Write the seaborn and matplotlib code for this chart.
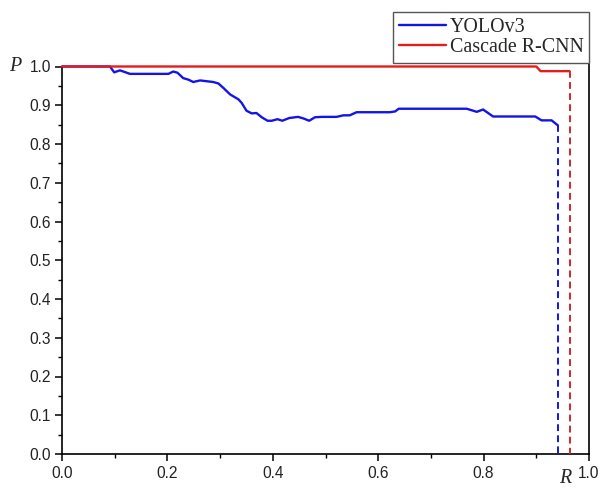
import numpy as np
import pandas as pd
import matplotlib
matplotlib.use("Agg")
import matplotlib.pyplot as plt
from matplotlib.ticker import MultipleLocator
import seaborn as sns

# ---- data ----
yolo_R = [0.000, 0.091, 0.099, 0.110, 0.129, 0.202, 0.211, 0.219, 0.230, 0.240,
          0.249, 0.262, 0.287, 0.297, 0.306, 0.319, 0.335, 0.341, 0.350, 0.360,
          0.369, 0.379, 0.390, 0.398, 0.409, 0.418, 0.431, 0.448, 0.458, 0.469,
          0.480, 0.493, 0.521, 0.534, 0.546, 0.559, 0.622, 0.632, 0.639, 0.768,
          0.787, 0.799, 0.818, 0.898, 0.910, 0.929, 0.941]
yolo_P = [1.000, 1.000, 0.985, 0.990, 0.981, 0.981, 0.987, 0.984, 0.970, 0.966,
          0.960, 0.964, 0.960, 0.956, 0.945, 0.928, 0.915, 0.906, 0.886, 0.879,
          0.880, 0.869, 0.860, 0.860, 0.864, 0.860, 0.867, 0.870, 0.866, 0.860,
          0.869, 0.870, 0.870, 0.874, 0.874, 0.882, 0.882, 0.884, 0.891, 0.891,
          0.883, 0.889, 0.871, 0.871, 0.861, 0.861, 0.848]
cascade_R = [0.000, 0.900, 0.908, 0.963]
cascade_P = [1.000, 1.000, 0.988, 0.988]

# vertical drop-offs (dashed)
yolo_drop_R = [0.941, 0.941]
yolo_drop_P = [0.848, 0.000]
cascade_drop_R = [0.963, 0.963]
cascade_drop_P = [0.988, 0.000]

series_names = ["YOLOv3", "Cascade R-CNN"]
x_ticks = [0.0, 0.2, 0.4, 0.6, 0.8, 1.0]
y_ticks = [0.0, 0.1, 0.2, 0.3, 0.4, 0.5, 0.6, 0.7, 0.8, 0.9, 1.0]

BLUE = "#1414e6"
RED = "#e41c1c"
RED_DASH = "#d02828"

sns.set_style("ticks")
plt.rcParams["font.family"] = ["Liberation Sans", "DejaVu Sans"]

fig = plt.figure(figsize=(6.01, 4.88), dpi=100)
ax = fig.add_axes([62 / 601, 1 - 454 / 488, 527 / 601, 387.5 / 488])

df_y = pd.DataFrame({"R": yolo_R, "P": yolo_P})
df_c = pd.DataFrame({"R": cascade_R, "P": cascade_P})
df_yd = pd.DataFrame({"R": yolo_drop_R, "P": yolo_drop_P})
df_cd = pd.DataFrame({"R": cascade_drop_R, "P": cascade_drop_P})

sns.lineplot(data=df_y, x="R", y="P", ax=ax, color=BLUE, lw=1.7,
             estimator=None, sort=False, clip_on=False, zorder=3)
sns.lineplot(data=df_yd, x="R", y="P", ax=ax, color=BLUE, lw=1.4,
             estimator=None, sort=False, clip_on=False, zorder=3,
             dashes=False, linestyle=(0, (3.5, 2.2)))
sns.lineplot(data=df_c, x="R", y="P", ax=ax, color=RED, lw=1.7,
             estimator=None, sort=False, clip_on=False, zorder=4)
sns.lineplot(data=df_cd, x="R", y="P", ax=ax, color=RED_DASH, lw=1.4,
             estimator=None, sort=False, clip_on=False, zorder=4,
             dashes=False, linestyle=(0, (3.5, 2.2)))

lines = ax.get_lines()
handles = [lines[0], lines[2]]

ax.set_xlim(0, 1.0)
ax.set_ylim(0, 1.0)
ax.set_xticks(x_ticks)
ax.set_yticks(y_ticks)
ax.set_xticklabels([f"{v:.1f}" for v in x_ticks])
ax.set_yticklabels([f"{v:.1f}" for v in y_ticks])
ax.xaxis.set_minor_locator(MultipleLocator(0.1))
ax.yaxis.set_minor_locator(MultipleLocator(0.05))
ax.tick_params(axis="both", which="major", direction="out", length=5,
               width=1.1, labelsize=11.2, pad=3, color="black", labelcolor="#222222")
ax.tick_params(axis="both", which="minor", direction="out", length=2.6,
               width=1.0, color="black")
ax.tick_params(axis="x", which="major", pad=4)

ax.set_xlabel("")
ax.set_ylabel("")

for side in ["left", "bottom", "right"]:
    ax.spines[side].set_visible(True)
    ax.spines[side].set_color("black")
    ax.spines[side].set_linewidth(1.2)
ax.spines["top"].set_visible(False)
ax.spines["right"].set_bounds(0, 1.012)

ax.text(-0.088, 1.0, "P", transform=ax.transAxes, ha="center", va="center",
        fontsize=14.4, fontstyle="italic", family=["Liberation Serif"])
ax.text(0.954, -0.064, "R", transform=ax.transAxes, ha="center", va="center",
        fontsize=14.4, fontstyle="italic", family=["Liberation Serif"])

leg = ax.legend(handles, series_names, loc="lower right",
                bbox_to_anchor=(589 / 601, 1 - 62.5 / 488),
                bbox_transform=fig.transFigure, borderaxespad=0,
                frameon=True, fancybox=False, framealpha=1,
                prop={"family": "Liberation Serif", "size": 14.4},
                handlelength=2.35, handletextpad=0.2, labelspacing=0.05,
                borderpad=0.28)
leg.get_frame().set_edgecolor("#555555")
leg.get_frame().set_linewidth(1.0)

fig.savefig("out.png", dpi=100)
